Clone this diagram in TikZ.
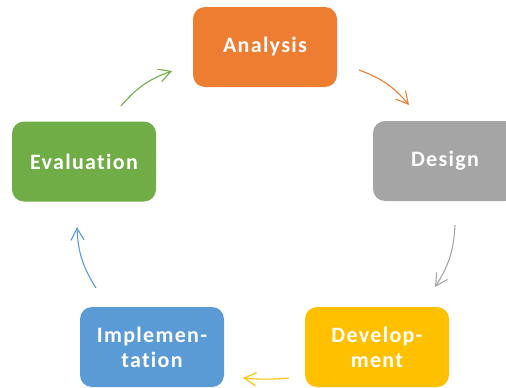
\documentclass[tikz,border=0pt]{standalone}
\usepackage{fontspec}
\newfontfamily\stagefont{Carlito}[LetterSpace=6, Ligatures=NoCommon]
\usetikzlibrary{arrows.meta}

\definecolor{anaOrange}{HTML}{ED7D31}
\definecolor{desGray}{HTML}{A5A5A5}
\definecolor{devYellow}{HTML}{FFC000}
\definecolor{impBlue}{HTML}{5B9BD5}
\definecolor{evaGreen}{HTML}{70AD47}

\tikzset{
  stage/.style={rounded corners=12pt, minimum width=144pt, minimum height=80pt,
    text=white, align=center, inner sep=0pt,
    font=\stagefont\bfseries\fontsize{22}{25}\selectfont},
  cycle/.style={line width=1.1pt, -{Straight Barb[length=12pt,width=13pt]}, bend left=15}
}

\begin{document}
\begin{tikzpicture}[x=1pt, y=1pt]
\useasboundingbox (0,0) rectangle (506,-388);

\node[stage, fill=anaOrange] (analysis) at (265,-47) {Analysis};
\node[stage, fill=desGray] (design) at (445,-161) {Design};
\node[stage, fill=devYellow] (development) at (377,-347) {Develop-\\ment};
\node[stage, fill=impBlue] (implementation) at (152,-347) {Implemen-\\tation};
\node[stage, fill=evaGreen] (evaluation) at (84,-161.5) {Evaluation};

% arrow ends
\coordinate (ea) at (121,-106);
\coordinate (ae) at (172,-71);
\coordinate (ad) at (359,-70);
\coordinate (da) at (409,-105);
\coordinate (dd) at (455,-225);
\coordinate (ddv) at (435,-287);
\coordinate (vi) at (289,-378);
\coordinate (iv) at (243,-378);
\coordinate (ie) at (96,-288);
\coordinate (ei) at (77,-227);

\draw[cycle, evaGreen] (ea) to (ae);
\draw[cycle, anaOrange] (ad) to (da);
\draw[cycle, desGray] (dd) to (ddv);
\draw[cycle, devYellow, bend left=5] (vi) to (iv);
\draw[cycle, impBlue] (ie) to (ei);
\end{tikzpicture}
\end{document}
